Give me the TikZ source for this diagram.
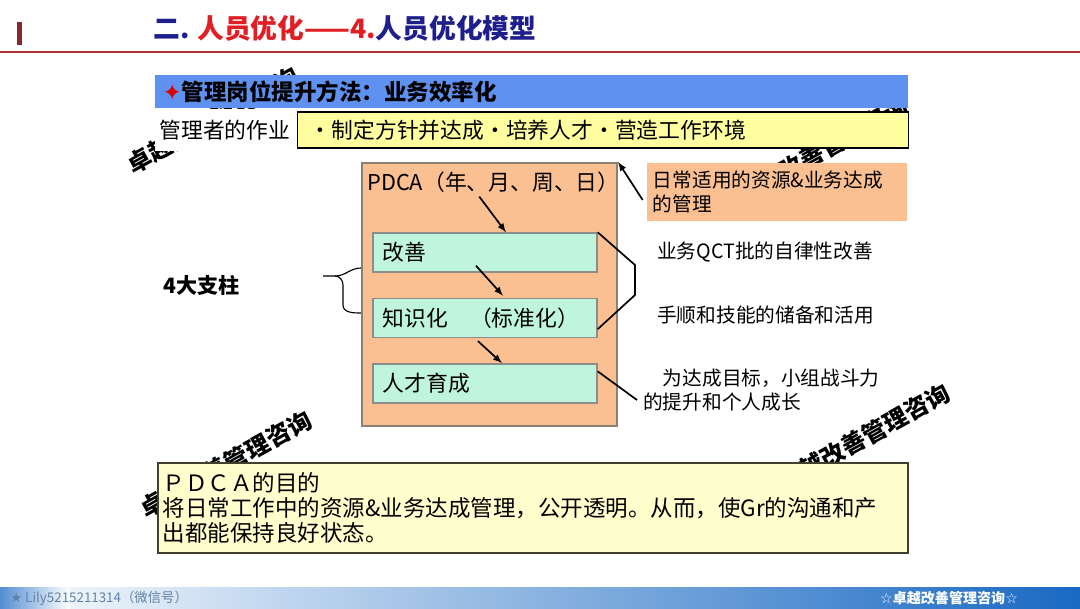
\documentclass[tikz,border=0pt]{standalone}
\usepackage{fontspec}
\newfontfamily\cjk{Noto Sans CJK SC}
\newfontfamily\djv{DejaVu Sans}
\usetikzlibrary{positioning}

\definecolor{titlenavy}{RGB}{30,30,140}
\definecolor{titlered}{RGB}{225,30,35}
\definecolor{rulered}{RGB}{170,50,55}
\definecolor{barblue}{RGB}{95,145,240}
\definecolor{noteyellow}{RGB}{255,255,160}
\definecolor{paleyellow}{RGB}{255,255,205}
\definecolor{peach}{RGB}{250,192,145}
\definecolor{mint}{RGB}{190,245,220}
\definecolor{footblue}{RGB}{25,105,195}
\definecolor{footgray}{RGB}{100,130,165}

\begin{document}
\begin{tikzpicture}[
  x=0.025cm, y=-0.025cm,
  every node/.style={font=\cjk},
  txt/.style={font=\cjk\fontsize{15.5}{18}\selectfont, inner sep=0pt},
  sidetext/.style={font=\cjk\fontsize{14}{17}\selectfont, inner sep=0pt, align=left},
  stamp/.style={font=\cjk\bfseries\fontsize{17}{17}\selectfont, rotate=29},
  pillar/.style={rectangle, draw=gray!90, line width=1pt, fill=mint, minimum width=5.6cm, minimum height=0.975cm, text width=5.1cm, align=left, font=\cjk\fontsize{15.5}{18}\selectfont},
  arrow/.style={-latex, line width=1.2pt}
]
  \fill[white] (0,0) rectangle (1080,608);
  \useasboundingbox (0,0) rectangle (1080,608);

  % watermarks behind everything
  \node[stamp] (wm1) at (213,120) {卓越改善管理咨询};
  \node[stamp] (wm2) at (822,150) {卓越改善管理咨询};
  \node[stamp] (wm3) at (226,464) {卓越改善管理咨询};
  \node[stamp] (wm4) at (864,437) {卓越改善管理咨询};

  % header
  \fill[rulered!80!black] (17,22) rectangle (22,45);
  \draw[rulered, line width=1pt] (0,52) -- (1080,52);
  \node[anchor=west, inner sep=0pt, font=\cjk\bfseries\fontsize{19}{22}\selectfont] (title) at (153,28)
    {\textcolor{titlenavy}{二.} \textcolor{titlered}{人员优化——4.}\textcolor{titlenavy}{人员优化模型}};

  \node[fill=barblue, minimum height=0.825cm, text width=18.425cm, inner xsep=0.2cm, align=left, font=\cjk\bfseries\fontsize{16}{18}\selectfont] (bar) at (531.5,91.5)
    {\textcolor{red!85!black}{\djv ✦}管理岗位提升方法：业务效率化};

  \node[txt, anchor=west, fill=white, inner xsep=3pt, inner ysep=8pt] (duty) at (155,130) {管理者的作业};
  \node[draw=black, line width=0.8pt, fill=noteyellow, minimum height=0.9cm, text width=14.65cm, inner xsep=0.3cm, align=left, font=\cjk\fontsize{15.5}{18}\selectfont] (tasks) at (603,130)
    {・制定方针并达成・培养人才・营造工作环境};

  % PDCA block
  \node[draw=gray!80!brown, line width=1.5pt, fill=peach, minimum width=6.375cm, minimum height=6.575cm] (pdca) at (489.5,294.5) {};
  \node[txt, anchor=west] (cycle) at (367,182) {PDCA（年、月、周、日）};

  \node[pillar] (kaizen) at (485,252.5) {改善};
  \node[pillar, below=0.625cm of kaizen] (zhishi) {知识化　（标准化）};
  \node[pillar, below=0.625cm of zhishi] (rencai) {人才育成};

  \draw[arrow] ([xshift=-0.35cm,yshift=-0.1cm]cycle.south) -- ([xshift=0.525cm]kaizen.north);
  \draw[arrow] ([xshift=-0.225cm,yshift=0.175cm]kaizen.south) -- ([xshift=0.45cm,yshift=0.05cm]zhishi.north);
  \draw[arrow] ([xshift=-0.175cm,yshift=-0.075cm]zhishi.south) -- ([xshift=0.425cm]rencai.north);

  % notes on the right
  \node[fill=peach, minimum height=1.45cm, text width=6.2cm, inner xsep=0.15cm, align=left, font=\cjk\fontsize{14}{17}\selectfont] (daily) at (777,192)
    {日常适用的资源\&业务达成\\的管理};
  \draw[arrow] ([xshift=-0.1cm,yshift=-0.2cm]daily.west) -- (pdca.north east);

  \draw[line width=1.2pt] (kaizen.north east) -- (635,265) -- (635,295) -- ([yshift=0.225cm]zhishi.south east);
  \coordinate (growthend) at (637,400);
  \draw[line width=1.2pt] ([yshift=0.3cm]rencai.east) -- (growthend);

  \node[sidetext, anchor=west] (qct) at (657,252) {业务QCT批的自律性改善};
  \node[sidetext, anchor=west] (skill) at (657,315) {手顺和技能的储备和活用};
  \node[sidetext, anchor=north west] (growth) at (643,369) {\hspace*{1em}为达成目标，小组战斗力\\的提升和个人成长};

  % left brace
  \node[anchor=west, inner sep=0pt, font=\cjk\bfseries\fontsize{15}{18}\selectfont] (pillars) at (163,285) {4大支柱};
  \coordinate (bracetip) at (323,276);
  \draw[line width=0.8pt] (bracetip) -- (335,276) to[out=0,in=180] ([yshift=0.6625cm]pdca.west);
  \draw[line width=0.8pt] (335,276) to[out=0,in=90] (343,285) -- (343,305) to[out=-90,in=180] ([yshift=-0.4625cm]pdca.west);

  % purpose box
  \node[draw=black!70!olive, line width=1pt, fill=paleyellow, minimum height=2.25cm, text width=18.5cm, inner xsep=0.125cm, align=left, font=\cjk\fontsize{16}{17.8}\selectfont] (purpose) at (533,508)
    {ＰＤＣＡ的目的\\将日常工作中的资源\&业务达成管理，公开透明。从而，使Gr的沟通和产\\出都能保持良好状态。};

  % footer
  \shade[left color=footblue!75, right color=white] (0,587) rectangle (70,608);
  \shade[left color=white!92!footblue, middle color=footblue!40, right color=footblue] (70,587) rectangle (1080,608);
  \node[anchor=west, inner sep=0pt, text=footgray, font=\cjk\fontsize{9.5}{11}\selectfont] (wechat) at (10,598) {{\djv ★} Lily5215211314（微信号）};
  \node[inner sep=0pt, text=white, font=\cjk\bfseries\fontsize{10}{11}\selectfont] (brand) at (949,598) {{\djv ☆}卓越改善管理咨询{\djv ☆}};
\end{tikzpicture}
\end{document}
